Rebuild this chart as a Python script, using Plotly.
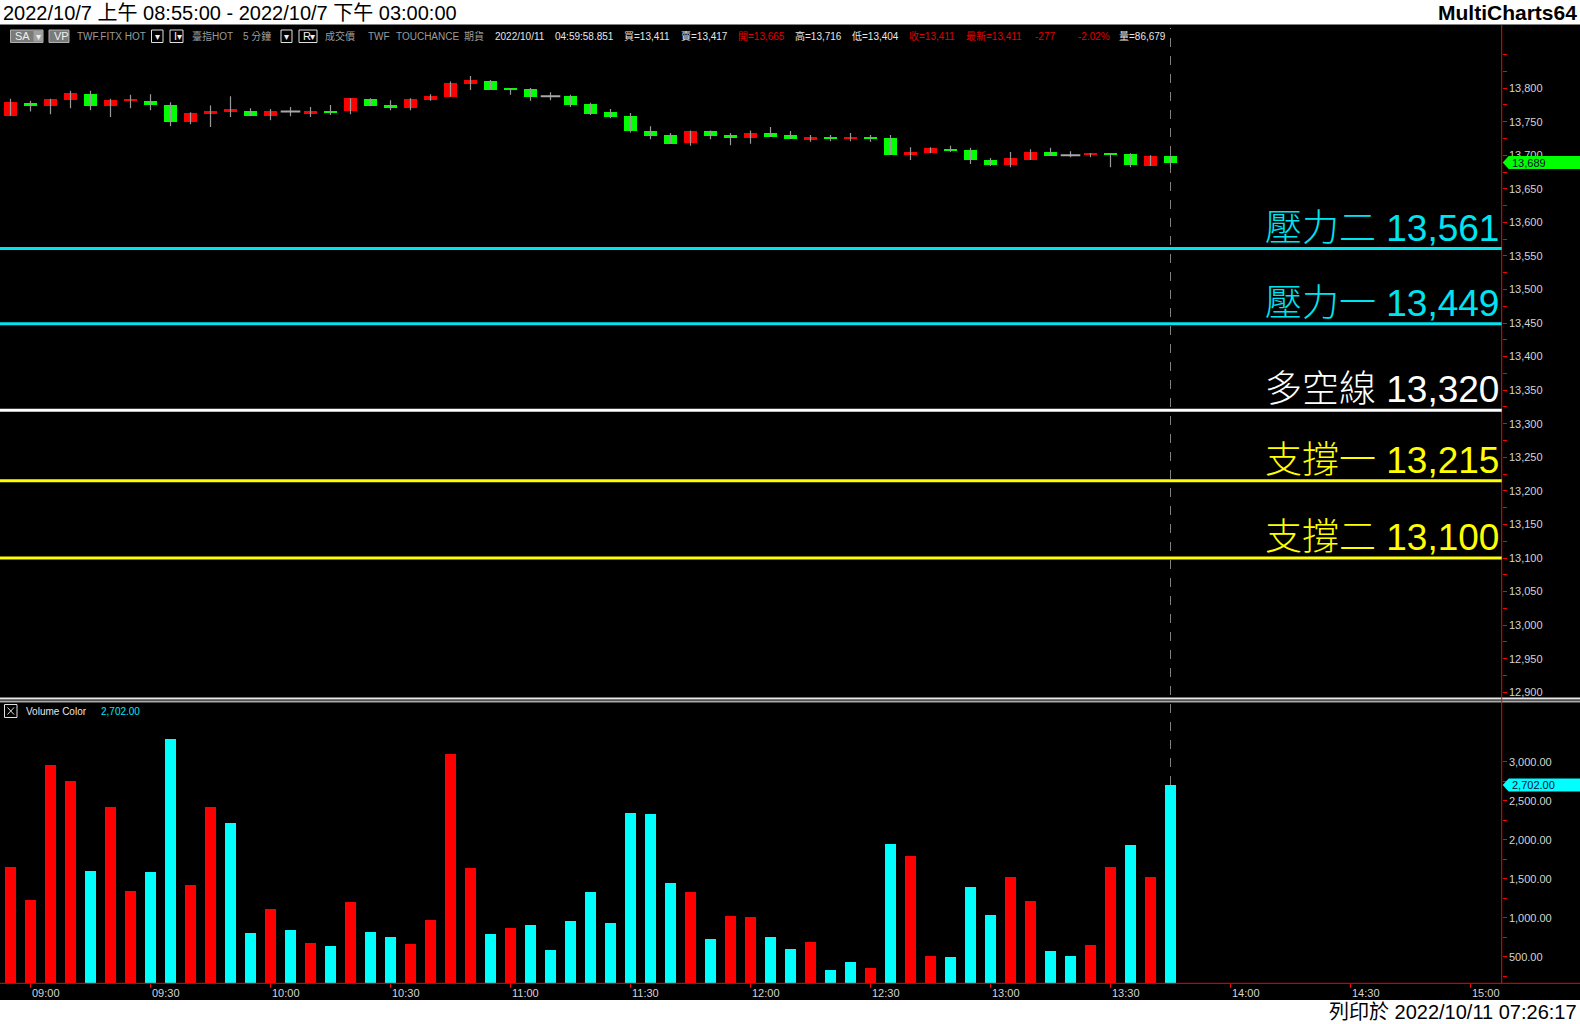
import pandas as pd
import plotly.graph_objects as go

W, H = 1580, 1024

# ---------------- data ----------------
times = pd.date_range("2022-10-07 08:55", periods=59, freq="5min")

opens = [13759, 13778, 13773, 13783, 13791, 13773, 13781, 13781, 13775, 13749,
         13761, 13764, 13766, 13758, 13765, 13761, 13766, 13766, 13784, 13775,
         13770, 13782, 13787, 13806, 13810, 13800, 13799, 13788, 13788, 13776,
         13764, 13758, 13736, 13730, 13718, 13736, 13730, 13726, 13733, 13730,
         13723, 13727, 13724, 13727, 13726, 13700, 13703, 13709, 13708, 13693,
         13685, 13693, 13705, 13700, 13700, 13703, 13702, 13684, 13699]
highs = [13784, 13781, 13784, 13796, 13796, 13784, 13790, 13791, 13779, 13764,
         13774, 13788, 13770, 13769, 13772, 13772, 13775, 13785, 13785, 13782,
         13785, 13791, 13810, 13818, 13812, 13800, 13800, 13794, 13790, 13778,
         13769, 13763, 13743, 13733, 13737, 13737, 13733, 13737, 13742, 13736,
         13730, 13730, 13733, 13730, 13730, 13712, 13712, 13714, 13711, 13696,
         13705, 13709, 13711, 13706, 13703, 13703, 13703, 13700, 13700]
lows = [13759, 13765, 13761, 13770, 13767, 13757, 13770, 13767, 13743, 13746,
        13742, 13757, 13758, 13752, 13758, 13757, 13760, 13761, 13773, 13767,
        13767, 13781, 13787, 13797, 13797, 13790, 13781, 13782, 13772, 13760,
        13755, 13734, 13724, 13717, 13714, 13724, 13715, 13717, 13727, 13724,
        13720, 13721, 13721, 13720, 13700, 13693, 13703, 13705, 13687, 13684,
        13682, 13693, 13699, 13697, 13697, 13682, 13682, 13684, 13682]
closes = [13779, 13773, 13784, 13793, 13773, 13782, 13784, 13775, 13749, 13763,
          13766, 13769, 13758, 13766, 13765, 13766, 13764, 13785, 13773, 13770,
          13784, 13788, 13807, 13812, 13797, 13797, 13787, 13788, 13775, 13761,
          13757, 13736, 13729, 13717, 13736, 13729, 13726, 13733, 13727, 13724,
          13727, 13724, 13727, 13724, 13700, 13705, 13711, 13706, 13693, 13685,
          13696, 13705, 13699, 13700, 13703, 13700, 13685, 13699, 13689]

volumes = [1650, 1227, 2958, 2753, 1599, 2419, 1343, 1587, 3291, 1420,
           2419, 2214, 804, 1112, 842, 676, 638, 1202, 817, 753,
           663, 971, 3099, 1637, 791, 868, 907, 586, 958, 1330,
           932, 2342, 2329, 1445, 1330, 727, 1022, 1009, 753, 599,
           689, 330, 432, 355, 1945, 1791, 509, 496, 1395, 1036,
           1523, 1215, 573, 509, 650, 1650, 1932, 1523, 2702]
vol_kind = ["R", "R", "R", "R", "C", "R", "R", "C", "C", "R",
            "R", "C", "C", "R", "C", "R", "C", "R", "C", "C",
            "R", "R", "R", "R", "C", "R", "C", "C", "C", "C",
            "C", "C", "C", "C", "R", "C", "R", "R", "C", "C",
            "R", "C", "C", "R", "C", "R", "R", "C", "C", "C",
            "R", "R", "C", "C", "R", "R", "C", "R", "C"]

level_names = ["壓力二", "壓力一", "多空線", "支撐一", "支撐二"]
level_values = [13561, 13449, 13320, 13215, 13100]
level_colors = ["#00E4F2", "#00E4F2", "#FFFFFF", "#FFFF00", "#FFFF00"]

price_ticks = list(range(12900, 13801, 50))
price_minor = list(range(12900, 13851, 25))
vol_ticks = list(range(500, 3001, 500))
vol_minor = list(range(250, 3001, 250))
time_ticks = pd.date_range("2022-10-07 09:00", "2022-10-07 15:00", freq="30min")

header_title = "2022/10/7 上午 08:55:00 - 2022/10/7 下午 03:00:00"
footer_text = "列印於 2022/10/11 07:26:17"

# ---------------- helpers (pixel -> paper) ----------------
def px(x):
    return x / W


def py(y):
    return 1 - y / H


RED = "#FF0000"
GREEN = "#00FF00"
CYAN = "#00FFFF"
WICK = "#9A9A9A"
AXTXT = "#D4D4D4"
FONT = "Liberation Sans, Noto Sans CJK TC, sans-serif"

X_RIGHT = 1501.7
bar_ms = 5 * 60 * 1000

# ---------------- traces ----------------
wx, wy = [], []
for t, lo, hi in zip(times, lows, highs):
    wx += [t, t, None]
    wy += [lo, hi, None]

body_x, body_base, body_h, body_col = [], [], [], []
doji_x, doji_y = [], []
for t, o, c in zip(times, opens, closes):
    if c == o:
        doji_x.append(t)
        doji_y.append(c)
    else:
        body_x.append(t)
        body_base.append(min(o, c))
        body_h.append(abs(c - o))
        body_col.append(RED if c > o else GREEN)

fig = go.Figure()
fig.add_trace(go.Scatter(x=wx, y=wy, mode="lines", line=dict(color=WICK, width=1.2),
                         xaxis="x", yaxis="y", hoverinfo="skip"))
fig.add_trace(go.Bar(x=body_x, y=body_h, base=body_base, marker=dict(color=body_col, line=dict(width=0)),
                     width=0.65 * bar_ms, xaxis="x", yaxis="y"))
fig.add_trace(go.Scatter(x=doji_x, y=doji_y, mode="markers",
                         marker=dict(symbol="line-ew", size=14, line=dict(width=2, color="#A8A8A8")),
                         xaxis="x", yaxis="y"))
fig.add_trace(go.Bar(x=times, y=volumes,
                     marker=dict(color=[RED if k == "R" else CYAN for k in vol_kind], line=dict(width=0)),
                     width=0.55 * bar_ms, xaxis="x2", yaxis="y2"))

# ---------------- layout ----------------
x_range = [pd.Timestamp("2022-10-07 08:52:22.5"), pd.Timestamp("2022-10-07 15:07:48")]
xdom = [0, px(X_RIGHT)]

fig.update_layout(
    template="none",
    width=W, height=H,
    margin=dict(l=0, r=0, t=0, b=0),
    paper_bgcolor="#000000", plot_bgcolor="#000000",
    showlegend=False, barmode="overlay", bargap=0,
    font=dict(family=FONT, color=AXTXT, size=11),
    xaxis=dict(domain=xdom, anchor="y", range=x_range, type="date", matches="x2",
               showticklabels=False, ticks="", showgrid=False, zeroline=False, showline=False,
               automargin=False),
    yaxis=dict(domain=[py(697), py(25)], anchor="x", side="right", range=[12893, 13894],
               tickmode="array", tickvals=price_ticks, tickformat=",d",
               ticks="outside", ticklen=4, tickcolor=RED, tickwidth=1,
               minor=dict(tickmode="array", tickvals=price_minor, ticks="outside", ticklen=4,
                          tickcolor=RED, tickwidth=1, showgrid=False),
               tickfont=dict(family=FONT, size=11, color=AXTXT),
               showgrid=False, zeroline=False, showline=False, automargin=False),
    xaxis2=dict(domain=xdom, anchor="y2", range=x_range, type="date",
                tickmode="array", tickvals=list(time_ticks), showticklabels=False,
                ticks="outside", ticklen=4, tickcolor=RED, tickwidth=1,
                showgrid=False, zeroline=False, showline=False, automargin=False),
    yaxis2=dict(domain=[py(983), py(702)], anchor="x2", side="right", range=[163, 3765],
                tickmode="array", tickvals=vol_ticks, tickformat=",.2f",
                ticks="outside", ticklen=4, tickcolor=RED, tickwidth=1,
                minor=dict(tickmode="array", tickvals=vol_minor, ticks="outside", ticklen=4,
                           tickcolor=RED, tickwidth=1, showgrid=False),
                tickfont=dict(family=FONT, size=11, color=AXTXT),
                showgrid=False, zeroline=False, showline=False, automargin=False),
)

shapes = []
ann = []

# white bands
shapes.append(dict(type="rect", xref="paper", yref="paper", x0=0, x1=1, y0=py(24.5), y1=1,
                   fillcolor="#FFFFFF", line=dict(width=0), layer="below"))
shapes.append(dict(type="rect", xref="paper", yref="paper", x0=0, x1=1, y0=0, y1=py(1000),
                   fillcolor="#FFFFFF", line=dict(width=0), layer="below"))
# dashed current bar line
shapes.append(dict(type="line", xref="x", yref="paper", x0=times[-1], x1=times[-1],
                   y0=py(983), y1=py(28), line=dict(color="#808080", width=1, dash="dash"),
                   layer="below"))
# separator
shapes.append(dict(type="line", xref="paper", yref="paper", x0=0, x1=1, y0=py(698.5), y1=py(698.5),
                   line=dict(color="#E8E8E8", width=2), layer="above"))
shapes.append(dict(type="line", xref="paper", yref="paper", x0=0, x1=1, y0=py(701.5), y1=py(701.5),
                   line=dict(color="#A8A8A8", width=2), layer="above"))
# red axis lines
shapes.append(dict(type="line", xref="paper", yref="paper", x0=px(X_RIGHT), x1=px(X_RIGHT),
                   y0=py(983), y1=py(25), line=dict(color=RED, width=1), layer="above"))
shapes.append(dict(type="line", xref="paper", yref="paper", x0=0, x1=1, y0=py(983.3), y1=py(983.3),
                   line=dict(color=RED, width=1), layer="above"))

# time axis labels (left-aligned just right of each tick)
for t in time_ticks:
    ann.append(dict(xref="x2", yref="paper", x=t, y=py(992.5), xanchor="left", yanchor="middle",
                    xshift=-1, text=t.strftime("%H:%M"), showarrow=False,
                    font=dict(family=FONT, size=11, color=AXTXT)))

# level lines and labels
for name, val, col in zip(level_names, level_values, level_colors):
    shapes.append(dict(type="line", xref="x domain", yref="y", x0=0, x1=1, y0=val, y1=val,
                       line=dict(color=col, width=3), layer="above"))
    ann.append(dict(xref="paper", yref="y", x=px(1501), y=val, xanchor="right", yanchor="bottom",
                    text=f"{name} {val:,}", showarrow=False, yshift=-2,
                    font=dict(family=FONT, size=37, color=col, weight=300)))

# last price / last volume flags
def flag(yref, yval, fill, label):
    shapes.append(dict(type="path", xref="paper", yref=yref, xsizemode="pixel", ysizemode="pixel",
                       xanchor=px(X_RIGHT), yanchor=yval,
                       path="M 1,0 L 7,6.5 L 78.3,6.5 L 78.3,-6.5 L 7,-6.5 Z",
                       fillcolor=fill, line=dict(width=0), layer="above"))
    ann.append(dict(xref="paper", yref=yref, x=px(1510), y=yval, xanchor="left", yanchor="middle",
                    text=label, showarrow=False, font=dict(family=FONT, size=11, color="#0A0A30")))

flag("y", closes[-1], GREEN, f"{closes[-1]:,}")
flag("y2", volumes[-1], CYAN, f"{volumes[-1]:,.2f}")

# title band text
ann.append(dict(xref="paper", yref="paper", x=px(1), y=py(12.5), xanchor="left", yanchor="middle",
                text=header_title, showarrow=False, font=dict(family=FONT, size=20, color="#000000")))
ann.append(dict(xref="paper", yref="paper", x=px(1579), y=py(12.5), xanchor="right", yanchor="middle",
                text="<b>MultiCharts64</b>", showarrow=False,
                font=dict(family="Liberation Sans", size=21, color="#000000")))
ann.append(dict(xref="paper", yref="paper", x=px(1579), y=py(1012), xanchor="right", yanchor="middle",
                text=footer_text, showarrow=False, font=dict(family=FONT, size=20, color="#000000")))

# header row boxes
HY0, HY1 = 30, 42.5
shapes.append(dict(type="rect", xref="paper", yref="paper", x0=px(10.5), x1=px(43), y0=py(HY1), y1=py(HY0),
                   fillcolor="#7A7A7A", line=dict(color="#B0B0B0", width=1), layer="above"))
shapes.append(dict(type="rect", xref="paper", yref="paper", x0=px(33.5), x1=px(42.5), y0=py(HY1 - 1), y1=py(HY0 + 1),
                   fillcolor="#A0A0A0", line=dict(width=0), layer="above"))
shapes.append(dict(type="rect", xref="paper", yref="paper", x0=px(49), x1=px(69), y0=py(HY1), y1=py(HY0),
                   fillcolor="#7A7A7A", line=dict(color="#B0B0B0", width=1), layer="above"))
for x0, x1 in [(151.5, 163), (170, 183), (281, 292), (299, 317)]:
    shapes.append(dict(type="rect", xref="paper", yref="paper", x0=px(x0), x1=px(x1), y0=py(HY1), y1=py(HY0),
                       fillcolor="#000000", line=dict(color="#E0E0E0", width=1), layer="above"))

HYC = 36.3
HFS = 10
small = [("SA", 12.5, "#F0F0F0"), ("VP", 51.5, "#F0F0F0"), ("I", 172, "#F0F0F0"), ("R", 301, "#F0F0F0")]
for t, x, c in small:
    ann.append(dict(xref="paper", yref="paper", x=px(x), y=py(HYC), xanchor="left", yanchor="middle",
                    text=t, showarrow=False, font=dict(family=FONT, size=HFS + 1, color=c)))
for x in [38, 157.3, 179, 286.5, 312]:
    ann.append(dict(xref="paper", yref="paper", x=px(x), y=py(HYC), xanchor="center", yanchor="middle",
                    text="▾", showarrow=False, font=dict(family="DejaVu Sans", size=10, color="#F0F0F0")))

GRAY = "#9C9C9C"
WHT = "#E6E6E6"
HRED = "#E00000"
header_items = [
    ("TWF.FITX HOT", 75, GRAY), ("臺指HOT", 190, GRAY), ("5 分鐘", 241, GRAY),
    ("成交價", 323, GRAY), ("TWF", 366, GRAY), ("TOUCHANCE", 394, GRAY), ("期貨", 462, GRAY),
    ("2022/10/11", 493, WHT), ("04:59:58.851", 553, WHT),
    ("買=13,411", 622, WHT), ("賣=13,417", 679, WHT), ("開=13,665", 736, HRED),
    ("高=13,716", 793, WHT), ("低=13,404", 850, WHT), ("收=13,411", 907, HRED),
    ("最新=13,411", 964, HRED), ("-277", 1033, HRED), ("-2.02%", 1076, HRED),
    ("量=86,679", 1117, WHT),
]
for t, x, c in header_items:
    ann.append(dict(xref="paper", yref="paper", x=px(x), y=py(HYC), xanchor="left", yanchor="middle",
                    text=t, showarrow=False, font=dict(family=FONT, size=HFS, color=c)))

# volume subchart header
shapes.append(dict(type="rect", xref="paper", yref="paper", x0=px(4.5), x1=px(17), y0=py(717.5), y1=py(704.5),
                   fillcolor="#000000", line=dict(color="#E0E0E0", width=1), layer="above"))
shapes.append(dict(type="path", xref="paper", yref="paper",
                   path=f"M {px(7.5)},{py(707.5)} L {px(14)},{py(714.5)} M {px(14)},{py(707.5)} L {px(7.5)},{py(714.5)}",
                   line=dict(color="#E0E0E0", width=1), layer="above"))
ann.append(dict(xref="paper", yref="paper", x=px(24), y=py(711), xanchor="left", yanchor="middle",
                text="Volume Color", showarrow=False, font=dict(family=FONT, size=HFS, color=WHT)))
ann.append(dict(xref="paper", yref="paper", x=px(99), y=py(711), xanchor="left", yanchor="middle",
                text=f"{volumes[-1]:,.2f}", showarrow=False, font=dict(family=FONT, size=HFS, color="#00E8F0")))

fig.update_layout(shapes=shapes, annotations=ann)

fig.write_html("out.html", config={"displayModeBar": False},
               post_script="document.body.style.margin='0';document.body.style.overflow='hidden';")
